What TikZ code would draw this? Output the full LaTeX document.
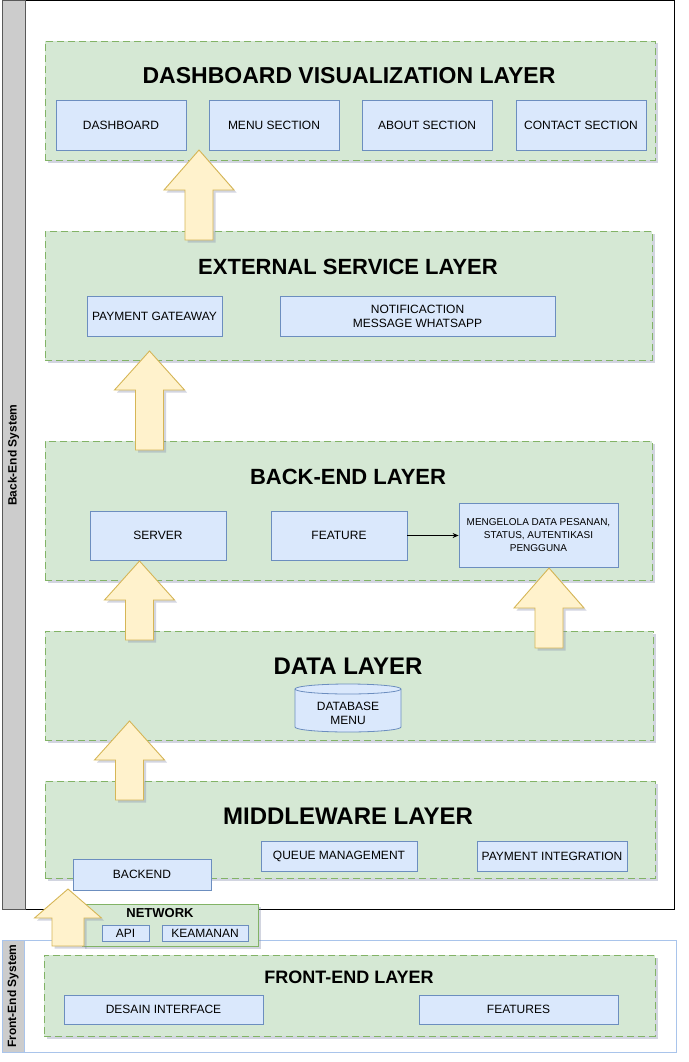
\documentclass[tikz,border=0pt]{standalone}
\usepackage{fontspec}
\setmainfont{Liberation Sans}
\usetikzlibrary{shadows,arrows.meta,calc}
\definecolor{lgreen}{HTML}{D5E8D4}
\definecolor{dgreen}{HTML}{82B366}
\definecolor{lblue}{HTML}{DAE8FC}
\definecolor{dblue}{HTML}{6C8EBF}
\definecolor{lyellow}{HTML}{FFF2CC}
\definecolor{dyellow}{HTML}{D6B656}
\definecolor{barfill}{HTML}{CCCCCC}
\definecolor{feblue}{HTML}{A9C4EB}
\definecolor{shcol}{HTML}{8088A8}
\tikzset{
  shd/.style={drop shadow={shadow xshift=2.5pt,shadow yshift=-2.5pt,opacity=0.35,fill=shcol}},
  layerbox/.style={fill=lgreen,draw=dgreen,line width=0.9pt,dash pattern=on 7pt off 4pt,shd,inner sep=0pt},
  itembox/.style={fill=lblue,draw=dblue,line width=0.8pt,inner sep=0pt,align=center,font=\fontsize{12}{14}\selectfont},
  blockarrow/.style={fill=lyellow,draw=dyellow,line width=0.9pt,line join=miter,shd},
  ltitle/.style={font=\fontsize{#1}{#1}\selectfont\bfseries,inner sep=0pt},
  barlabel/.style={rotate=90,font=\fontsize{12}{14}\selectfont\bfseries,inner sep=0pt}
}
% name, x1, y1, x2, y2, style, text
\newcommand{\rbox}[7]{\node[#6,minimum width=#4pt-#2pt,minimum height=#5pt-#3pt] (#1) at ({(#2+#4)/2},{(#3+#5)/2}) {#7};}
% cx, tip, headbase, bottom, halfhead, halfshaft
\newcommand{\blockup}[6]{\draw[blockarrow] (#1,#2) -- (#1+#5,#3) -- (#1+#6,#3) -- (#1+#6,#4) -- (#1-#6,#4) -- (#1-#6,#3) -- (#1-#5,#3) -- cycle;}
\begin{document}
\begin{tikzpicture}[x=1pt,y=-1pt]
\useasboundingbox[fill=white] (0,0) rectangle (688,1062);
% Back-End System swimlane
\draw[black,line width=0.9pt] (2,0.5) rectangle (674,909);
\draw[fill=barfill,draw=black!65,line width=1pt] (2,0.5) rectangle (25,909);
\node[barlabel] (belabel) at (13.5,455) {Back-End System};

% Dashboard layer
\rbox{dashl}{45}{41}{655}{160}{layerbox}{}
\node[ltitle=23] (dasht) at (349,76) {DASHBOARD VISUALIZATION LAYER};
\rbox{dash}{56}{100}{186}{150}{itembox}{DASHBOARD}
\rbox{menu}{209}{100}{339}{150}{itembox}{MENU SECTION}
\rbox{about}{362}{100}{492}{150}{itembox}{ABOUT SECTION}
\rbox{contact}{516}{100}{646}{150}{itembox}{CONTACT SECTION}

% External service layer
\rbox{extl}{45}{231}{652}{360}{layerbox}{}
\node[ltitle=22] (extt) at (348,267) {EXTERNAL SERVICE LAYER};
\rbox{pay}{87}{296}{222}{336}{itembox}{PAYMENT GATEAWAY}
\rbox{notif}{280}{296}{555}{336}{itembox}{NOTIFICACTION\\MESSAGE WHATSAPP}

% Back-end layer
\rbox{bel}{45}{441}{652}{580}{layerbox}{}
\node[ltitle=22] (bet) at (348,477) {BACK-END LAYER};
\rbox{server}{90}{511}{226}{560}{itembox}{SERVER}
\rbox{feat}{271}{511}{407}{560}{itembox}{FEATURE}
\rbox{meng}{459}{503}{618}{567}{itembox,font=\fontsize{10}{13}\selectfont}{MENGELOLA DATA PESANAN,\\STATUS, AUTENTIKASI\\PENGGUNA}
\draw[-{Stealth[length=6pt,width=5pt]},line width=0.8pt] (feat.east) -- (feat.east -| meng.west);

% Data layer
\rbox{datal}{45}{631}{653}{740}{layerbox}{}
\node[ltitle=24] (datat) at (348,666) {DATA LAYER};
\draw[fill=lblue,draw=dblue,line width=0.8pt] (295,689) -- (295,727) arc[start angle=180,end angle=0,x radius=53,y radius=5] -- (401,689) arc[start angle=0,end angle=-180,x radius=53,y radius=5] -- cycle;
\draw[draw=dblue,line width=0.8pt] (295,689) arc[start angle=180,end angle=0,x radius=53,y radius=5];
\node[align=center,font=\fontsize{12}{14}\selectfont,inner sep=0pt] (db) at (348,713) {DATABASE\\MENU};

% Middleware layer
\rbox{midl}{45}{781}{655}{878}{layerbox}{}
\node[ltitle=24] (midt) at (348,816) {MIDDLEWARE LAYER};
\rbox{backend}{73}{859}{211}{890}{itembox}{BACKEND}
\rbox{queue}{261}{841}{417}{871}{itembox}{QUEUE MANAGEMENT}
\rbox{payint}{477}{841}{627}{871}{itembox}{PAYMENT INTEGRATION}

% Front-End System
\draw[feblue,line width=0.9pt] (2,940) rectangle (676,1052);
\draw[fill=barfill,draw=feblue,line width=0.9pt] (2,940) rectangle (24,1052);
\node[barlabel] (felabel) at (13,996) {Front-End System};
\rbox{fel}{44}{955}{655}{1036}{layerbox}{}
\node[ltitle=18] (fet) at (349,977) {FRONT-END LAYER};
\rbox{desain}{64}{995}{263}{1024}{itembox}{DESAIN INTERFACE}
\rbox{features}{419}{995}{618}{1024}{itembox}{FEATURES}

% Network
\rbox{net}{82}{904}{258}{946}{fill=lgreen,draw=dgreen,line width=0.9pt,shd,inner sep=0pt}{}
\node[ltitle=13] (nett) at (160,913) {NETWORK};
\rbox{api}{102}{925}{149}{941}{itembox}{API}
\rbox{keam}{162}{925}{248}{941}{itembox}{KEAMANAN}

% Block arrows
\blockup{199}{150}{190}{240}{35}{14}
\blockup{149.5}{351}{390}{450}{35}{14}
\blockup{139.5}{561}{600}{640}{35}{14}
\blockup{549}{568}{608}{648}{35}{14}
\blockup{129.5}{721}{760}{800}{35}{14}
\blockup{68}{889}{918}{946}{33.5}{16}
\end{tikzpicture}
\end{document}
